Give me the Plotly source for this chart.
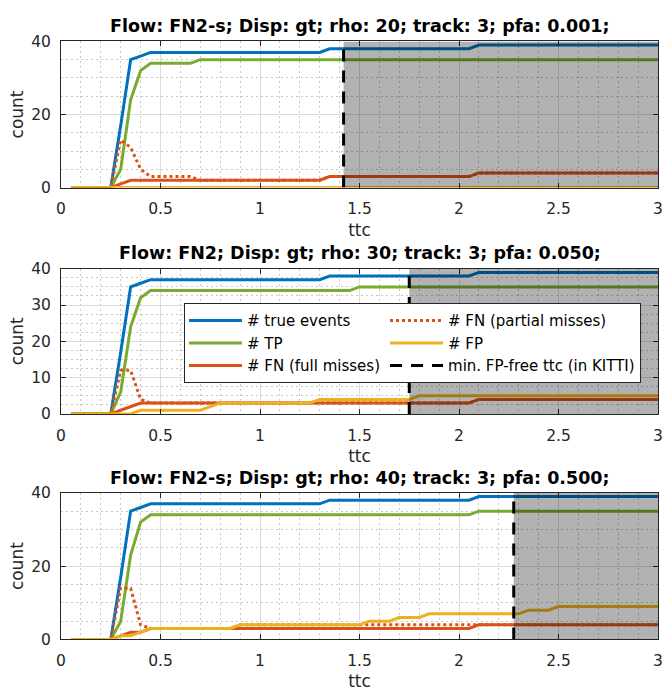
import plotly.graph_objects as go

# ---------------- data ----------------
ttc = [0.05, 0.1, 0.15, 0.2, 0.25, 0.3, 0.35, 0.4, 0.45, 0.5,
       0.55, 0.6, 0.65, 0.7, 0.75, 0.8, 0.85, 0.9, 0.95, 1.0,
       1.05, 1.1, 1.15, 1.2, 1.25, 1.3, 1.35, 1.4, 1.45, 1.5,
       1.55, 1.6, 1.65, 1.7, 1.75, 1.8, 1.85, 1.9, 1.95, 2.0,
       2.05, 2.1, 2.15, 2.2, 2.25, 2.3, 2.35, 2.4, 2.45, 2.5,
       2.55, 2.6, 2.65, 2.7, 2.75, 2.8, 2.85, 2.9, 2.95, 3.0]

titles = ["Flow: FN2-s; Disp: gt; rho: 20; track: 3; pfa: 0.001;",
          "Flow: FN2; Disp: gt; rho: 30; track: 3; pfa: 0.050;",
          "Flow: FN2-s; Disp: gt; rho: 40; track: 3; pfa: 0.500;"]

series_names = ["# true events", "# TP", "# FN (full misses)",
                "# FN (partial misses)", "# FP", "min. FP-free ttc (in KITTI)"]

min_fp_free_ttc = [1.42, 1.75, 2.275]

# panel 1
true1 = [0, 0, 0, 0, 0, 17, 35, 36, 37, 37,
         37, 37, 37, 37, 37, 37, 37, 37, 37, 37,
         37, 37, 37, 37, 37, 37, 38, 38, 38, 38,
         38, 38, 38, 38, 38, 38, 38, 38, 38, 38,
         38, 39, 39, 39, 39, 39, 39, 39, 39, 39,
         39, 39, 39, 39, 39, 39, 39, 39, 39, 39]
tp1 = [0, 0, 0, 0, 0, 5, 24, 32, 34, 34,
       34, 34, 34, 35, 35, 35, 35, 35, 35, 35,
       35, 35, 35, 35, 35, 35, 35, 35, 35, 35,
       35, 35, 35, 35, 35, 35, 35, 35, 35, 35,
       35, 35, 35, 35, 35, 35, 35, 35, 35, 35,
       35, 35, 35, 35, 35, 35, 35, 35, 35, 35]
fnfull1 = [0, 0, 0, 0, 0, 1, 2, 2, 2, 2,
           2, 2, 2, 2, 2, 2, 2, 2, 2, 2,
           2, 2, 2, 2, 2, 2, 3, 3, 3, 3,
           3, 3, 3, 3, 3, 3, 3, 3, 3, 3,
           3, 4, 4, 4, 4, 4, 4, 4, 4, 4,
           4, 4, 4, 4, 4, 4, 4, 4, 4, 4]
fnpart1 = [0, 0, 0, 0, 0, 13, 11, 5, 3, 3,
           3, 3, 3, 2, 2, 2, 2, 2, 2, 2,
           2, 2, 2, 2, 2, 2, 3, 3, 3, 3,
           3, 3, 3, 3, 3, 3, 3, 3, 3, 3,
           3, 4, 4, 4, 4, 4, 4, 4, 4, 4,
           4, 4, 4, 4, 4, 4, 4, 4, 4, 4]
fp1 = [0, 0, 0, 0, 0, 0, 0, 0, 0, 0,
       0, 0, 0, 0, 0, 0, 0, 0, 0, 0,
       0, 0, 0, 0, 0, 0, 0, 0, 0, 0,
       0, 0, 0, 0, 0, 0, 0, 0, 0, 0,
       0, 0, 0, 0, 0, 0, 0, 0, 0, 0,
       0, 0, 0, 0, 0, 0, 0, 0, 0, 0]

# panel 2
true2 = [0, 0, 0, 0, 0, 17, 35, 36, 37, 37,
         37, 37, 37, 37, 37, 37, 37, 37, 37, 37,
         37, 37, 37, 37, 37, 37, 38, 38, 38, 38,
         38, 38, 38, 38, 38, 38, 38, 38, 38, 38,
         38, 39, 39, 39, 39, 39, 39, 39, 39, 39,
         39, 39, 39, 39, 39, 39, 39, 39, 39, 39]
tp2 = [0, 0, 0, 0, 0, 6, 24, 32, 34, 34,
       34, 34, 34, 34, 34, 34, 34, 34, 34, 34,
       34, 34, 34, 34, 34, 34, 34, 34, 34, 35,
       35, 35, 35, 35, 35, 35, 35, 35, 35, 35,
       35, 35, 35, 35, 35, 35, 35, 35, 35, 35,
       35, 35, 35, 35, 35, 35, 35, 35, 35, 35]
fnfull2 = [0, 0, 0, 0, 0, 1, 2, 3, 3, 3,
           3, 3, 3, 3, 3, 3, 3, 3, 3, 3,
           3, 3, 3, 3, 3, 3, 3, 3, 3, 3,
           3, 3, 3, 3, 3, 3, 3, 3, 3, 3,
           3, 4, 4, 4, 4, 4, 4, 4, 4, 4,
           4, 4, 4, 4, 4, 4, 4, 4, 4, 4]
fnpart2 = [0, 0, 0, 0, 0, 12, 12, 4, 3, 3,
           3, 3, 3, 3, 3, 3, 3, 3, 3, 3,
           3, 3, 3, 3, 3, 3, 3, 3, 3, 3,
           3, 3, 3, 3, 3, 3, 3, 3, 3, 3,
           3, 4, 4, 4, 4, 4, 4, 4, 4, 4,
           4, 4, 4, 4, 4, 4, 4, 4, 4, 4]
fp2 = [0, 0, 0, 0, 0, 0, 0, 1, 1, 1,
       1, 1, 1, 1, 2, 3, 3, 3, 3, 3,
       3, 3, 3, 3, 3, 4, 4, 4, 4, 4,
       4, 4, 4, 4, 4, 5, 5, 5, 5, 5,
       5, 5, 5, 5, 5, 5, 5, 5, 5, 5,
       5, 5, 5, 5, 5, 5, 5, 5, 5, 5]

# panel 3
true3 = [0, 0, 0, 0, 0, 17, 35, 36, 37, 37,
         37, 37, 37, 37, 37, 37, 37, 37, 37, 37,
         37, 37, 37, 37, 37, 37, 38, 38, 38, 38,
         38, 38, 38, 38, 38, 38, 38, 38, 38, 38,
         38, 39, 39, 39, 39, 39, 39, 39, 39, 39,
         39, 39, 39, 39, 39, 39, 39, 39, 39, 39]
tp3 = [0, 0, 0, 0, 0, 5, 23, 32, 34, 34,
       34, 34, 34, 34, 34, 34, 34, 34, 34, 34,
       34, 34, 34, 34, 34, 34, 34, 34, 34, 34,
       34, 34, 34, 34, 34, 34, 34, 34, 34, 34,
       34, 35, 35, 35, 35, 35, 35, 35, 35, 35,
       35, 35, 35, 35, 35, 35, 35, 35, 35, 35]
fnfull3 = [0, 0, 0, 0, 0, 1, 2, 2, 3, 3,
           3, 3, 3, 3, 3, 3, 3, 3, 3, 3,
           3, 3, 3, 3, 3, 3, 3, 3, 3, 3,
           3, 3, 3, 3, 3, 3, 3, 3, 3, 3,
           3, 4, 4, 4, 4, 4, 4, 4, 4, 4,
           4, 4, 4, 4, 4, 4, 4, 4, 4, 4]
fnpart3 = [0, 0, 0, 0, 0, 14, 14, 4, 3, 3,
           3, 3, 3, 3, 3, 3, 3, 4, 4, 4,
           4, 4, 4, 4, 4, 4, 4, 4, 4, 4,
           4, 4, 4, 4, 4, 4, 4, 4, 4, 4,
           4, 4, 4, 4, 4, 4, 4, 4, 4, 4,
           4, 4, 4, 4, 4, 4, 4, 4, 4, 4]
fp3 = [0, 0, 0, 0, 0, 1, 1, 2, 3, 3,
       3, 3, 3, 3, 3, 3, 3, 4, 4, 4,
       4, 4, 4, 4, 4, 4, 4, 4, 4, 4,
       5, 5, 5, 6, 6, 6, 7, 7, 7, 7,
       7, 7, 7, 7, 7, 7, 8, 8, 8, 9,
       9, 9, 9, 9, 9, 9, 9, 9, 9, 9]

panels = [
    [true1, tp1, fnfull1, fnpart1, fp1],
    [true2, tp2, fnfull2, fnpart2, fp2],
    [true3, tp3, fnfull3, fnpart3, fp3],
]
y_ticks_step = [20, 10, 20]
y_minor_step = [5, 2.5, 5]

# ---------------- styling ----------------
W, H = 665, 693
ML, MR = 61, 7
FONT = "DejaVu Sans"
AXC = "#262626"
colors = ["#0072BD", "#77AC30", "#D95319", "#D95319", "#EDB120"]
dashes = ["solid", "solid", "solid", "dot", "solid"]
groups = ["g1", "g1", "g1", "g2", "g2"]
# plot areas (pixel top, bottom)
plot_px = [(33.3, 183.3), (266.7, 415.7), (496.7, 647.3)]
title_px = [17.5, 250.5, 482.0]

fig = go.Figure()

for k in range(3):
    xa = "x" if k == 0 else f"x{k+1}"
    ya = "y" if k == 0 else f"y{k+1}"
    show = (k == 1)
    for s in range(5):
        fig.add_trace(go.Scatter(
            x=ttc, y=panels[k][s], mode="lines", name=series_names[s],
            line=dict(color=colors[s], width=3, dash=dashes[s]),
            xaxis=xa, yaxis=ya, showlegend=show,
            legendgroup=groups[s] if show else None,
        ))
    fig.add_trace(go.Scatter(
        x=[min_fp_free_ttc[k], min_fp_free_ttc[k]], y=[0, 40], mode="lines",
        name=series_names[5],
        line=dict(color="black", width=3, dash="12px,9px"),
        xaxis=xa, yaxis=ya, showlegend=show,
        legendgroup="g2" if show else None,
    ))

layout = dict(
    width=W, height=H,
    margin=dict(l=ML, r=MR, t=0, b=0),
    paper_bgcolor="white", plot_bgcolor="white",
    font=dict(family=FONT, color=AXC),
    legend=dict(
        orientation="h", x=(184 - ML) / (W - ML - MR), xanchor="left",
        y=1 - 302 / H, yanchor="top",
        bgcolor="white", bordercolor=AXC, borderwidth=1,
        font=dict(family=FONT, size=15, color="black"),
        itemwidth=53, tracegroupgap=0,
    ),
    shapes=[], annotations=[],
)

for k in range(3):
    top, bot = plot_px[k]
    xs = "xaxis" if k == 0 else f"xaxis{k+1}"
    ys = "yaxis" if k == 0 else f"yaxis{k+1}"
    yref = "y" if k == 0 else f"y{k+1}"
    xref = "x" if k == 0 else f"x{k+1}"
    layout[xs] = dict(
        domain=[0, 1], range=[0, 3], tick0=0, dtick=0.5, anchor=yref,
        showgrid=True, gridcolor="#dcdcdc", gridwidth=1, zeroline=False,
        minor=dict(dtick=0.1, tick0=0, showgrid=True, gridcolor="#c8c8c8",
                   griddash="2px,3px", gridwidth=1, ticks=""),
        showline=True, linecolor=AXC, linewidth=1, mirror="ticks",
        ticks="inside", ticklen=5, tickcolor=AXC,
        tickfont=dict(family=FONT, size=15.5, color=AXC),
        ticklabelstandoff=7,
        title=dict(text="ttc", font=dict(family=FONT, size=17, color=AXC), standoff=6),
    )
    layout[ys] = dict(
        domain=[1 - bot / H, 1 - top / H], range=[0, 40], tick0=0,
        dtick=y_ticks_step[k], anchor=xref,
        showgrid=True, gridcolor="#dcdcdc", gridwidth=1, zeroline=False,
        minor=dict(dtick=y_minor_step[k], tick0=0, showgrid=True, gridcolor="#c8c8c8",
                   griddash="2px,3px", gridwidth=1, ticks=""),
        showline=True, linecolor=AXC, linewidth=1, mirror="ticks",
        ticks="inside", ticklen=5, tickcolor=AXC,
        tickfont=dict(family=FONT, size=15.5, color=AXC),
        ticklabelstandoff=6,
        title=dict(text="count", font=dict(family=FONT, size=17, color=AXC), standoff=3),
    )
    layout["shapes"].append(dict(
        type="rect", xref=xref, yref=yref, x0=min_fp_free_ttc[k], x1=3, y0=0, y1=40,
        fillcolor="rgba(0,0,0,0.3)", line=dict(width=0), layer="above",
    ))
    layout["annotations"].append(dict(
        text="<b>" + titles[k] + "</b>", xref="paper", yref="paper",
        x=0.5, y=1 - title_px[k] / H, xanchor="center", yanchor="middle",
        showarrow=False, font=dict(family=FONT, size=17.5, color="black"),
    ))

fig.update_layout(**layout)
fig.write_html("out.html")
